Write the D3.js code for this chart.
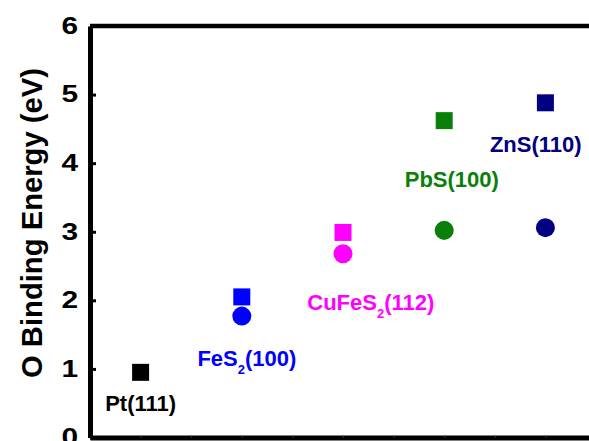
<!DOCTYPE html>
<html>
<head>
<meta charset="utf-8">
<script src="https://cdn.jsdelivr.net/npm/d3@7"></script>
<style>
  html, body { margin: 0; padding: 0; background: #fff; }
  svg { display: block; }
  text { font-family: "Liberation Sans", Arial, sans-serif; font-weight: bold; }
</style>
</head>
<body>
<svg id="chart" width="589" height="441"></svg>
<script>
// ---- data ----
const categories = ["Pt(111)", "FeS_2(100)", "CuFeS_2(112)", "PbS(100)", "ZnS(110)"];
const categoryPositions = [1, 3, 5, 7, 9];
const squareValues = [0.95, 2.05, 2.99, 4.62, 4.88];
const circleValues = [null, 1.77, 2.68, 3.02, 3.06];
const yTicks = [0, 1, 2, 3, 4, 5, 6];
const yTitle = "O Binding Energy (eV)";

// ---- style / layout ----
const colors = ["#000000", "#0000ff", "#ff00ff", "#0a800a", "#000080"];
// label anchor offsets (x in category units, y in value units)
const labelDx = [0, 0.10, 0.55, 0.15, -0.19];
const labelY = [0.386, 1.04, 1.86, 3.65, 4.16];

const svg = d3.select("#chart");
const mLeft = 90, mRight = 596, mTop = 26, mBottom = 437.5;

const x = d3.scaleLinear().domain([0, 10]).range([mLeft, mRight]);
const y = d3.scaleLinear().domain([0, 6]).range([mBottom, mTop]);

// top frame line (extends beyond view)
svg.append("line").attr("x1", mLeft).attr("x2", mRight).attr("y1", mTop).attr("y2", mTop)
  .attr("stroke", "#000").attr("stroke-width", 4.3);

// x axis (bottom) with faint ticks
const xAxis = svg.append("g").attr("transform", `translate(0,${mBottom})`)
  .call(d3.axisBottom(x).tickValues(d3.range(1, 10)).tickSize(-2).tickSizeOuter(0).tickFormat(""));
xAxis.select(".domain").attr("stroke", "#000").attr("stroke-width", 5);
xAxis.selectAll(".tick line").attr("stroke", "#444").attr("stroke-width", 1);

// y axis
const yAxis = svg.append("g").attr("transform", `translate(${mLeft},0)`)
  .call(d3.axisLeft(y).tickValues(yTicks).tickFormat(d3.format("d")).tickSize(-6).tickSizeOuter(0));
yAxis.select(".domain").attr("stroke", "#000").attr("stroke-width", 5);
yAxis.selectAll(".tick line").attr("stroke", "#000").attr("stroke-width", 3);
yAxis.selectAll(".tick text")
  .attr("x", 0)
  .attr("transform", "translate(-12,0) scale(1.3,1)")
  .attr("font-size", 23).attr("font-weight", "bold")
  .attr("font-family", "'Liberation Sans', Arial, sans-serif")
  .attr("fill", "#000");

// y title
svg.append("text")
  .attr("transform", `translate(42,223) rotate(-90)`)
  .attr("text-anchor", "middle")
  .attr("font-size", 30)
  .attr("textLength", 310)
  .attr("lengthAdjust", "spacingAndGlyphs")
  .attr("fill", "#000")
  .text(yTitle);

// squares
svg.append("g").selectAll("path")
  .data(categories.map((c, i) => ({ k: categoryPositions[i], v: squareValues[i], c: colors[i] })).filter(d => d.v != null))
  .join("path")
  .attr("d", d3.symbol().type(d3.symbolSquare).size(289))
  .attr("transform", d => `translate(${x(d.k)},${y(d.v)})`)
  .attr("fill", d => d.c);

// circles
svg.append("g").selectAll("path")
  .data(categories.map((c, i) => ({ k: categoryPositions[i], v: circleValues[i], c: colors[i] })).filter(d => d.v != null))
  .join("path")
  .attr("d", d3.symbol().type(d3.symbolCircle).size(284))
  .attr("transform", d => `translate(${x(d.k)},${y(d.v)})`)
  .attr("fill", d => d.c);

// labels with subscript
categories.forEach((lab, i) => {
  const t = svg.append("text")
    .attr("x", x(categoryPositions[i] + labelDx[i]))
    .attr("y", y(labelY[i]))
    .attr("text-anchor", "middle")
    .attr("font-size", 22)
    .attr("fill", colors[i]);
  const parts = lab.split("_");
  if (parts.length === 1) {
    t.text(lab);
  } else {
    t.append("tspan").text(parts[0]);
    t.append("tspan").attr("font-size", 13).attr("dy", 8).text(parts[1].charAt(0));
    t.append("tspan").attr("dy", -8).text(parts[1].slice(1));
  }
});
</script>
</body>
</html>
